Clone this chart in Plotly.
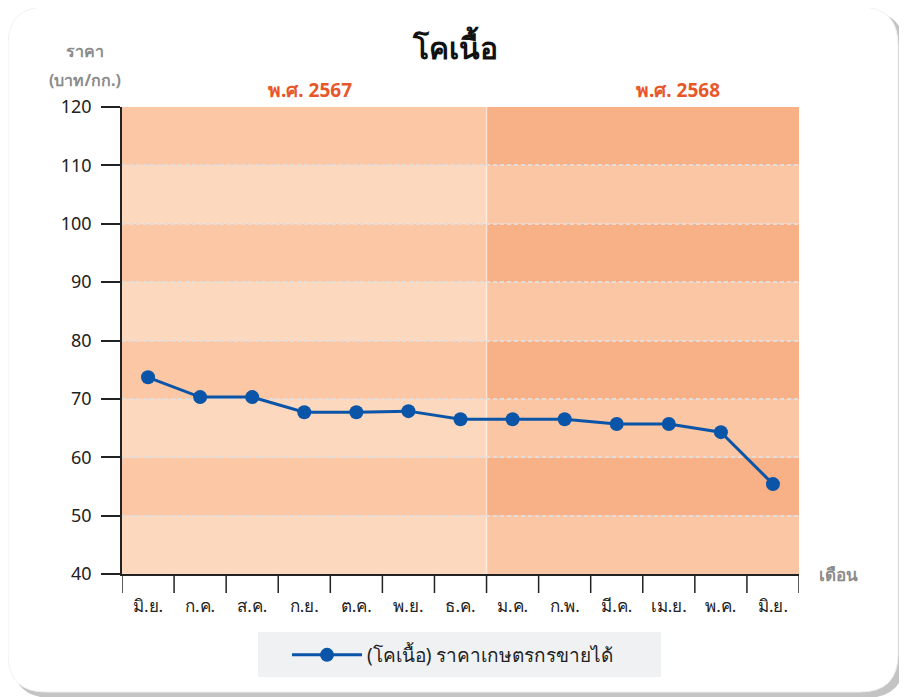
import plotly.graph_objects as go

months = ["มิ.ย.", "ก.ค.", "ส.ค.", "ก.ย.", "ต.ค.", "พ.ย.", "ธ.ค.",
          "ม.ค.", "ก.พ.", "มี.ค.", "เม.ย.", "พ.ค.", "มิ.ย."]
prices = [73.7, 70.3, 70.3, 67.7, 67.7, 67.9, 66.5, 66.5, 66.5, 65.7, 65.7, 64.3, 55.4]
year_labels = ["พ.ศ. 2567", "พ.ศ. 2568"]
y_ticks = [40, 50, 60, 70, 80, 90, 100, 110, 120]
series_name = "(โคเนื้อ) ราคาเกษตรกรขายได้"
title_text = "โคเนื้อ"

OFF = 8  # page body margin
W, H = 907 - OFF, 697 - OFF
L, R, T, B = 122 - OFF, 799 - OFF, 107 - OFF, 574 - OFF

def px(x):
    return (x - OFF - L) / (R - L)

def py(y):
    return (B - (y - OFF)) / (B - T)

FONT = "Noto Sans, Roboto, sans-serif"
cats = list(range(len(months)))

fig = go.Figure()
fig.add_trace(go.Scatter(
    x=cats, y=prices, mode="lines+markers", name=series_name,
    line=dict(color="#0B55A8", width=3),
    marker=dict(size=14, color="#0B55A8"),
    showlegend=True,
))

shapes = []

def rounded(x0, y0, x1, y1, r):
    return (f"M {px(x0+r)} {py(y0)} L {px(x1-r)} {py(y0)} "
            f"Q {px(x1)} {py(y0)} {px(x1)} {py(y0+r)} "
            f"L {px(x1)} {py(y1-r)} Q {px(x1)} {py(y1)} {px(x1-r)} {py(y1)} "
            f"L {px(x0+r)} {py(y1)} Q {px(x0)} {py(y1)} {px(x0)} {py(y1-r)} "
            f"L {px(x0)} {py(y0+r)} Q {px(x0)} {py(y0)} {px(x0+r)} {py(y0)} Z")

# card shadow and card
shapes.append(dict(type="path", xref="paper", yref="paper", layer="below",
                   path=rounded(12, 11, 905, 698, 40), fillcolor="#C4C4C4", line=dict(width=0)))
shapes.append(dict(type="path", xref="paper", yref="paper", layer="below",
                   path=rounded(8, 7, 898, 692, 38), fillcolor="#FFFFFF",
                   line=dict(width=1, color="#F0F0F0")))

# background bands
split = 6.5
n = len(months)
for i in range(len(y_ticks) - 1):
    lo, hi = y_ticks[i], y_ticks[i + 1]
    dark = (i % 2 == 1)
    left_c = "#FBC7A5" if dark else "#FCD8BE"
    right_c = "#F8B087" if dark else "#FBC6A4"
    shapes.append(dict(type="rect", xref="x", yref="y", layer="below",
                       x0=-0.5, x1=split, y0=lo, y1=hi, fillcolor=left_c, line=dict(width=0)))
    shapes.append(dict(type="rect", xref="x", yref="y", layer="below",
                       x0=split, x1=n - 0.5, y0=lo, y1=hi, fillcolor=right_c, line=dict(width=0)))
shapes.append(dict(type="line", xref="x", yref="y", layer="below",
                   x0=split, x1=split, y0=y_ticks[0], y1=y_ticks[-1],
                   line=dict(color="rgba(255,255,255,0.5)", width=1.5)))

# legend box
shapes.append(dict(type="rect", xref="paper", yref="paper", layer="below",
                   x0=px(258), x1=px(661), y0=py(677), y1=py(632),
                   fillcolor="#F0F1F3", line=dict(width=0)))

def ann(text, x, y, size, color):
    return dict(text=text, x=px(x), y=py(y), xref="paper", yref="paper",
                xanchor="center", yanchor="middle", showarrow=False,
                font=dict(size=size, color=color, family=FONT))

annotations = [
    ann(f"<b>{title_text}</b>", 455, 47, 30, "#111111"),
    ann("<b>ราคา</b>", 85, 51, 16, "#8C8C8C"),
    ann("<b>(บาท/กก.)</b>", 85, 80, 16, "#8C8C8C"),
    ann("<b>เดือน</b>", 838, 574, 17, "#8C8C8C"),
    ann(f"<b>{year_labels[0]}</b>", 310, 90, 19, "#E8572A"),
    ann(f"<b>{year_labels[1]}</b>", 678, 90, 19, "#E8572A"),
]

fig.update_layout(
    width=W, height=H,
    margin=dict(l=L, r=W - R, t=T, b=H - B),
    paper_bgcolor="#FFFFFF",
    plot_bgcolor="rgba(0,0,0,0)",
    shapes=shapes,
    annotations=annotations,
    showlegend=True,
    legend=dict(orientation="h", x=px(453), y=py(655), xanchor="center", yanchor="middle",
                bgcolor="rgba(0,0,0,0)", font=dict(size=19, color="#222222", family=FONT),
                itemwidth=70),
    font=dict(family=FONT),
)
fig.update_xaxes(
    range=[-0.5, n - 0.5], tickmode="array", tickvals=cats, ticktext=months,
    showgrid=False, zeroline=False, showline=True, linecolor="#222222", linewidth=1.5,
    ticks="outside", ticklen=16, tickcolor="rgba(0,0,0,0)",
    tickfont=dict(size=17, color="#222222"),
    fixedrange=True,
)
fig.update_yaxes(
    range=[y_ticks[0], y_ticks[-1]], tickmode="array", tickvals=y_ticks,
    showgrid=True, gridcolor="#E4DCD8", griddash="4px,3px", gridwidth=2,
    zeroline=False, showline=True, linecolor="#222222", linewidth=1.5,
    ticks="outside", ticklen=19, tickwidth=1.5, tickcolor="#222222",
    ticklabelstandoff=6,
    tickfont=dict(size=18, color="#222222"), fixedrange=True,
)

# x-axis boundary ticks drawn as vertical lines below the axis
for k in range(n + 1):
    fig.add_shape(type="line", xref="x", yref="paper", x0=k - 0.5, x1=k - 0.5,
                  y0=0, y1=py(593), line=dict(color="#222222", width=1.5))

fig.write_html("out.html")
